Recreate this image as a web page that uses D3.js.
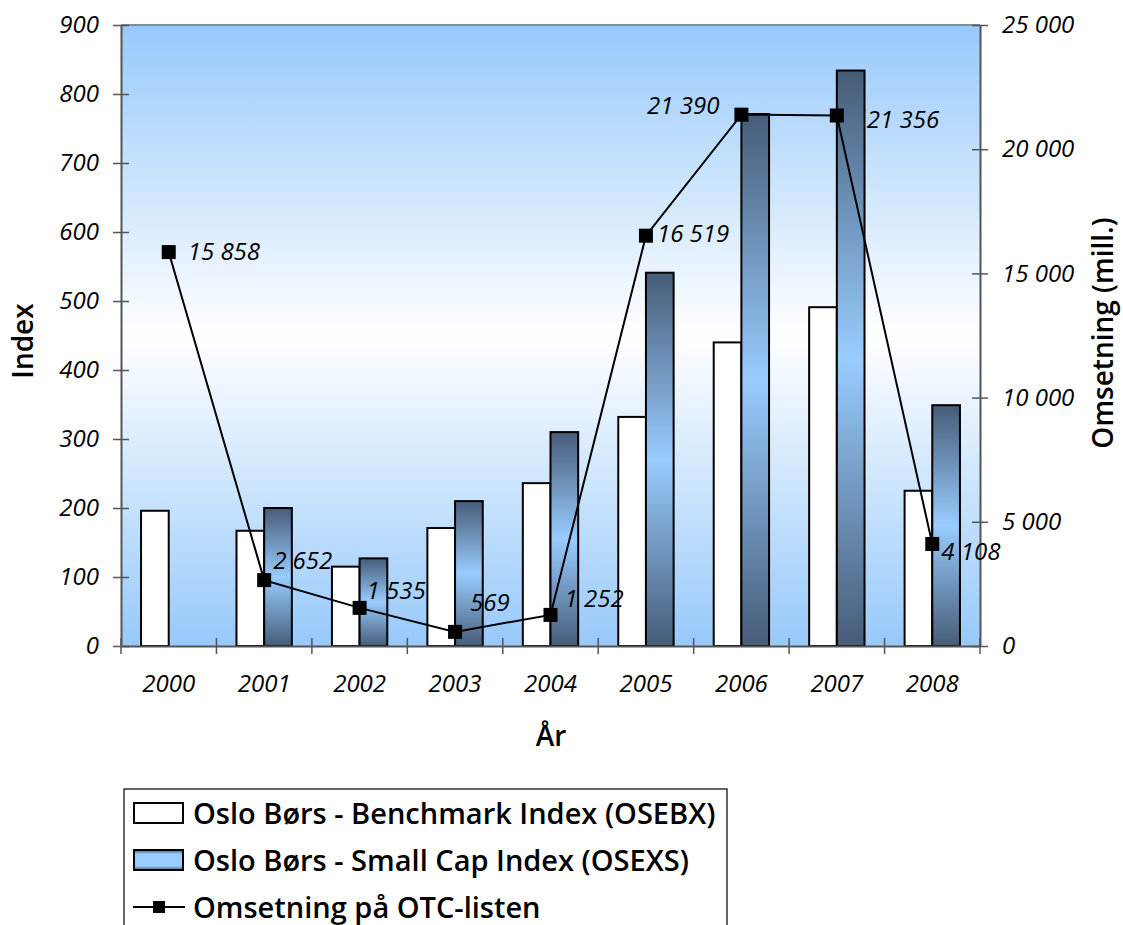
<!DOCTYPE html>
<html>
<head>
<meta charset="utf-8">
<script src="https://cdn.jsdelivr.net/npm/d3@7"></script>
<style>
  html, body { margin: 0; padding: 0; background: #fff; }
  svg { display: block; }
  text { font-family: "Open Sans", "DejaVu Sans", sans-serif; fill: #000; }
</style>
</head>
<body>
<svg id="chart" width="1123" height="925"></svg>
<script>
// Years on the category axis
const years = ["2000", "2001", "2002", "2003", "2004", "2005", "2006", "2007", "2008"];
// Oslo Børs Benchmark Index (OSEBX), year-end level
const osebx = [196, 167, 115, 171, 236, 332, 440, 491, 225];
// Oslo Børs Small Cap Index (OSEXS); no value for 2000
const osexs = [null, 200, 127, 210, 310, 541, 771, 834, 349];
// Turnover on the OTC list, NOK million
const otc = [15858, 2652, 1535, 569, 1252, 16519, 21390, 21356, 4108];
// Axis ticks
const indexTicks = [0, 100, 200, 300, 400, 500, 600, 700, 800, 900];
const otcTicks = [0, 5000, 10000, 15000, 20000, 25000];
// Series names for the legend
const seriesNames = [
  "Oslo Børs - Benchmark Index (OSEBX)",
  "Oslo Børs - Small Cap Index (OSEXS)",
  "Omsetning på OTC-listen"
];

const svg = d3.select("#chart");
const plot = { left: 121, right: 980, top: 25, bottom: 646 };

const x = d3.scaleBand().domain(years).range([plot.left, plot.right]);
const yL = d3.scaleLinear().domain([0, 900]).range([plot.bottom, plot.top]);
const yR = d3.scaleLinear().domain([0, 25000]).range([plot.bottom, plot.top]);
const barW = x.bandwidth() * 0.29;

const fmt = v => d3.format(",")(v).replace(/,/g, " ");

// Gradients
const defs = svg.append("defs");
const bg = defs.append("linearGradient").attr("id", "bgGrad")
  .attr("x1", 0).attr("y1", 0).attr("x2", 0).attr("y2", 1);
bg.append("stop").attr("offset", "0%").attr("stop-color", "#97c9fb");
bg.append("stop").attr("offset", "50%").attr("stop-color", "#ffffff");
bg.append("stop").attr("offset", "100%").attr("stop-color", "#97c9fb");

const bar = defs.append("linearGradient").attr("id", "barGrad")
  .attr("x1", 0).attr("y1", 0).attr("x2", 0).attr("y2", 1);
bar.append("stop").attr("offset", "0%").attr("stop-color", "#465c78");
bar.append("stop").attr("offset", "50%").attr("stop-color", "#99ccff");
bar.append("stop").attr("offset", "100%").attr("stop-color", "#465c78");

const legGrad = defs.append("linearGradient").attr("id", "legGrad")
  .attr("x1", 0).attr("y1", 0).attr("x2", 0).attr("y2", 1);
legGrad.append("stop").attr("offset", "0%").attr("stop-color", "#465c78");
legGrad.append("stop").attr("offset", "20%").attr("stop-color", "#99ccff");
legGrad.append("stop").attr("offset", "80%").attr("stop-color", "#99ccff");
legGrad.append("stop").attr("offset", "100%").attr("stop-color", "#465c78");

// Plot area background
svg.append("rect")
  .attr("x", plot.left).attr("y", plot.top)
  .attr("width", plot.right - plot.left).attr("height", plot.bottom - plot.top)
  .attr("fill", "url(#bgGrad)");
svg.append("line")
  .attr("x1", plot.left).attr("x2", plot.right)
  .attr("y1", plot.top).attr("y2", plot.top)
  .attr("stroke", "#8a8a8a").attr("stroke-width", 2);

// Bars
const gBars = svg.append("g");
gBars.selectAll("rect.osebx").data(years).join("rect")
  .attr("class", "osebx")
  .attr("x", d => x(d) + x.bandwidth() / 2 - barW)
  .attr("y", (d, i) => yL(osebx[i]))
  .attr("width", barW)
  .attr("height", (d, i) => plot.bottom - yL(osebx[i]))
  .attr("fill", "#fff").attr("stroke", "#000").attr("stroke-width", 2);

gBars.selectAll("rect.osexs").data(years.filter((d, i) => osexs[i] != null)).join("rect")
  .attr("class", "osexs")
  .attr("x", d => x(d) + x.bandwidth() / 2)
  .attr("y", d => yL(osexs[years.indexOf(d)]))
  .attr("width", barW)
  .attr("height", d => plot.bottom - yL(osexs[years.indexOf(d)]))
  .attr("fill", "url(#barGrad)").attr("stroke", "#000").attr("stroke-width", 2);

// Axes
const axisColor = "#555";
const leftAxis = svg.append("g")
  .attr("transform", `translate(${plot.left},0)`)
  .call(d3.axisLeft(yL).tickValues(indexTicks).tickSize(0).tickPadding(22).tickFormat(d3.format("d")));
leftAxis.select(".domain").attr("stroke", axisColor).attr("stroke-width", 2);
leftAxis.selectAll(".tick").append("line")
  .attr("x1", -8).attr("x2", 8).attr("stroke", axisColor).attr("stroke-width", 1.5);

const rightAxis = svg.append("g")
  .attr("transform", `translate(${plot.right},0)`)
  .call(d3.axisRight(yR).tickValues(otcTicks).tickSize(0).tickPadding(22).tickFormat(fmt));
rightAxis.select(".domain").attr("stroke", axisColor).attr("stroke-width", 2);
rightAxis.selectAll(".tick").append("line")
  .attr("x1", -8).attr("x2", 8).attr("stroke", axisColor).attr("stroke-width", 1.5);

const bottomAxis = svg.append("g")
  .attr("transform", `translate(0,${plot.bottom})`)
  .call(d3.axisBottom(x).tickSize(0).tickPadding(29));
bottomAxis.select(".domain").attr("stroke", axisColor).attr("stroke-width", 2);
// boundary ticks between categories
bottomAxis.selectAll("line.bound")
  .data(years.map(d => x(d)).concat([plot.right]))
  .join("line").attr("class", "bound")
  .attr("x1", d => d).attr("x2", d => d).attr("y1", -8).attr("y2", 8)
  .attr("stroke", axisColor).attr("stroke-width", 1.5);

svg.selectAll(".tick text")
  .style("font-family", "'Open Sans', 'DejaVu Sans', sans-serif")
  .style("font-style", "italic").style("font-size", "24px").attr("fill", "#000");

// OTC turnover line
const lineGen = d3.line()
  .x((d, i) => x(years[i]) + x.bandwidth() / 2)
  .y(d => yR(d));
svg.append("path").datum(otc)
  .attr("d", lineGen).attr("fill", "none").attr("stroke", "#000").attr("stroke-width", 2);
const mk = 14;
svg.selectAll("rect.mk").data(otc).join("rect").attr("class", "mk")
  .attr("x", (d, i) => x(years[i]) + x.bandwidth() / 2 - mk / 2)
  .attr("y", d => yR(d) - mk / 2)
  .attr("width", mk).attr("height", mk).attr("fill", "#000");

// Value labels placement around markers
const labelPos = [
  { dx: 19, dy: 0, a: "start" }, { dx: 9, dy: -20, a: "start" }, { dx: 7, dy: -17, a: "start" },
  { dx: 15, dy: -29, a: "start" }, { dx: 14, dy: -16, a: "start" }, { dx: 11, dy: -2, a: "start" },
  { dx: -22, dy: -9, a: "end" }, { dx: 30, dy: 4, a: "start" }, { dx: 9, dy: 8, a: "start" }
];
svg.selectAll("text.val").data(otc).join("text").attr("class", "val")
  .attr("x", (d, i) => x(years[i]) + x.bandwidth() / 2 + labelPos[i].dx)
  .attr("y", (d, i) => yR(d) + labelPos[i].dy)
  .attr("dy", "0.35em")
  .attr("text-anchor", (d, i) => labelPos[i].a)
  .style("font-style", "italic").style("font-size", "24px")
  .text(fmt);

// Axis titles
svg.append("text")
  .attr("transform", "translate(33,341) rotate(-90)")
  .attr("text-anchor", "middle").style("font-weight", "600").style("font-size", "28px")
  .text("Index");
svg.append("text")
  .attr("transform", "translate(1113,333) rotate(-90)")
  .attr("text-anchor", "middle").style("font-weight", "600").style("font-size", "28px")
  .text("Omsetning (mill.)");
svg.append("text")
  .attr("x", 551).attr("y", 746)
  .attr("text-anchor", "middle").style("font-weight", "600").style("font-size", "28px")
  .text("År");

// Legend
const leg = svg.append("g");
leg.append("rect").attr("x", 124).attr("y", 789).attr("width", 603).attr("height", 160)
  .attr("fill", "#fff").attr("stroke", "#000").attr("stroke-width", 1.2);
const rowY = [813, 860, 907];
leg.append("rect").attr("x", 134).attr("y", rowY[0] - 10).attr("width", 49).attr("height", 20)
  .attr("fill", "#fff").attr("stroke", "#000").attr("stroke-width", 2);
leg.append("rect").attr("x", 134).attr("y", rowY[1] - 10).attr("width", 49).attr("height", 20)
  .attr("fill", "url(#legGrad)").attr("stroke", "#000").attr("stroke-width", 2);
leg.append("line").attr("x1", 133).attr("x2", 185).attr("y1", rowY[2]).attr("y2", rowY[2])
  .attr("stroke", "#000").attr("stroke-width", 2);
leg.append("rect").attr("x", 153).attr("y", rowY[2] - 6).attr("width", 12).attr("height", 12).attr("fill", "#000");
leg.selectAll("text.leg").data(seriesNames).join("text").attr("class", "leg")
  .attr("x", 193).attr("y", (d, i) => rowY[i] + 11)
  .style("font-weight", "600").style("font-size", "29px")
  .text(d => d);
</script>
</body>
</html>
